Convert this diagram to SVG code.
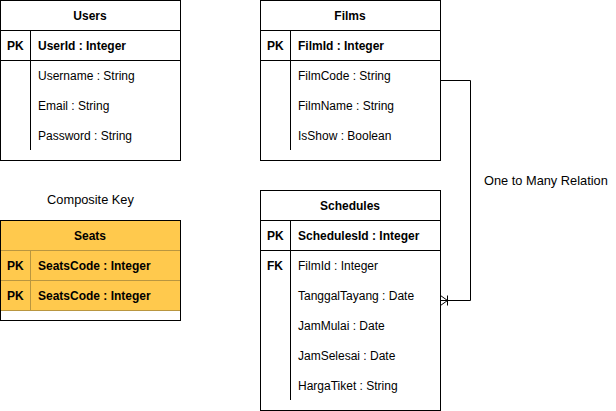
<svg xmlns="http://www.w3.org/2000/svg" width="616" height="411" viewBox="0 0 616 411">
<style>
text{font-family:"Liberation Sans",Arial,sans-serif;font-size:12px;fill:#000}
.h{font-weight:bold;text-anchor:middle}
.b{font-weight:bold}
.lbl{font-size:12.8px}
.box{fill:#fff;stroke:#000;stroke-width:1}
.ln{stroke:#000;stroke-width:1;fill:none}
.yl{stroke:#b99640;stroke-width:1;fill:none}
</style>
<rect width="616" height="411" fill="#fff"/>
<g id="users">
<rect class="box" x="0.5" y="0.5" width="180" height="160"/>
<path class="ln" d="M0.5,30.5H180.5M0.5,60.5H180.5M30.5,30.5V150"/>
<text class="h" x="90" y="20">Users</text>
<text class="b" x="7" y="50">PK</text>
<text class="b" x="38" y="50">UserId : Integer</text>
<text x="38" y="80">Username : String</text>
<text x="38" y="110">Email : String</text>
<text x="38" y="140">Password : String</text>
</g>
<g id="films">
<rect class="box" x="260.5" y="0.5" width="180" height="160"/>
<path class="ln" d="M260.5,30.5H440.5M260.5,60.5H440.5M290.5,30.5V150"/>
<text class="h" x="350" y="20">Films</text>
<text class="b" x="267" y="50">PK</text>
<text class="b" x="298" y="50">FilmId : Integer</text>
<text x="298" y="80">FilmCode : String</text>
<text x="298" y="110">FilmName : String</text>
<text x="298" y="140">IsShow : Boolean</text>
</g>
<g id="schedules">
<rect class="box" x="260.5" y="190.5" width="180" height="220"/>
<path class="ln" d="M260.5,220.5H440.5M260.5,250.5H440.5M290.5,220.5V400"/>
<text class="h" x="350" y="210">Schedules</text>
<text class="b" x="267" y="240">PK</text>
<text class="b" x="298" y="240">SchedulesId : Integer</text>
<text class="b" x="267" y="270">FK</text>
<text x="298" y="270">FilmId : Integer</text>
<text x="298" y="300">TanggalTayang : Date</text>
<text x="298" y="330">JamMulai : Date</text>
<text x="298" y="360">JamSelesai : Date</text>
<text x="298" y="390">HargaTiket : String</text>
</g>
<g id="composite-key-label">
<text class="h lbl" x="90.5" y="204" style="font-weight:normal">Composite Key</text>
</g>
<g id="seats">
<rect class="box" x="0.5" y="220.5" width="180" height="100"/>
<rect x="1" y="221" width="179" height="89.5" fill="#ffc94d"/>
<path class="yl" d="M1,250.5H180M1,280.5H180M1,310.5H180M30.5,250.5V310"/>
<path class="ln" d="M0.5,220.5H180.5V320.5H0.5Z"/>
<text class="h" x="90" y="240">Seats</text>
<text class="b" x="7" y="270">PK</text>
<text class="b" x="38" y="270">SeatsCode : Integer</text>
<text class="b" x="7" y="300">PK</text>
<text class="b" x="38" y="300">SeatsCode : Integer</text>
</g>
<g id="connectors">
<path class="ln" d="M440.5,80.5H470.5V300.5H440.5"/>
<path class="ln" d="M440.5,295.5L447.5,300.5L440.5,305.5M447.5,295.5V305.5"/>
<text class="lbl" x="484" y="184.5">One to Many Relation</text>
</g>
</svg>
